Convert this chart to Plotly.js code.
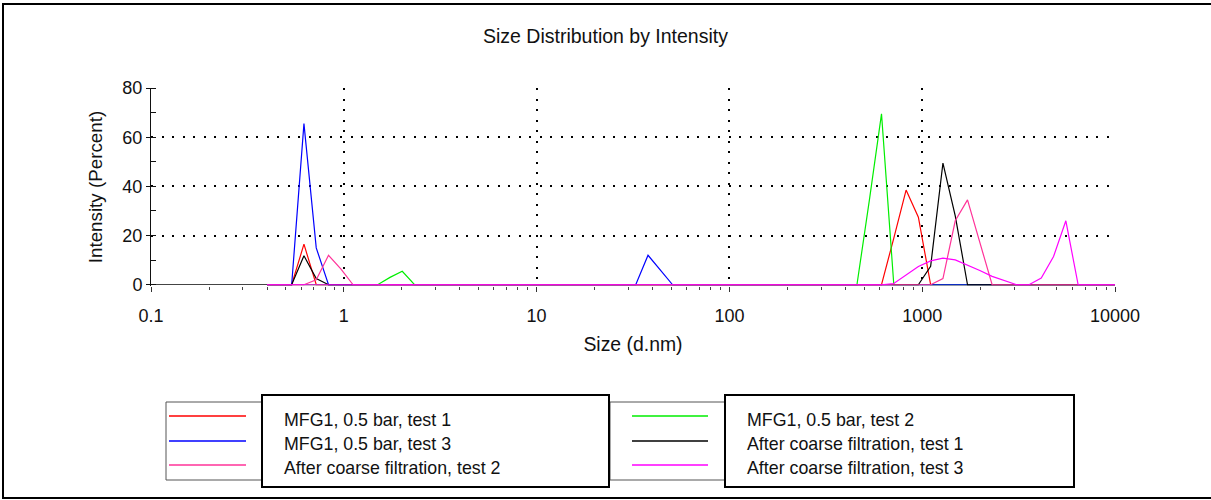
<!DOCTYPE html>
<html>
<head>
<meta charset="utf-8">
<script src="https://cdn.plot.ly/plotly-3.0.1.min.js"></script>
<style>html,body{margin:0;padding:0;background:#fff;}#chart{width:1211px;height:500px;}</style>
</head>
<body>
<div id="chart"></div>
<script>
// Size bins (d.nm)
const sizes = [0.4, 0.4632, 0.5365, 0.6213, 0.7195, 0.8332, 0.9649, 1.117, 1.294, 1.499,
  1.736, 2.01, 2.328, 2.696, 3.122, 3.615, 4.187, 4.849, 5.615, 6.503,
  7.531, 8.721, 10.1, 11.7, 13.54, 15.69, 18.17, 21.04, 24.36, 28.21,
  32.67, 37.84, 43.82, 50.75, 58.77, 68.06, 78.82, 91.28, 105.7, 122.4,
  141.8, 164.2, 190.1, 220.2, 255.0, 295.3, 342.0, 396.1, 458.7, 531.2,
  615.1, 712.4, 825.0, 955.4, 1106, 1281, 1484, 1718, 1990, 2305,
  2669, 3091, 3580, 4145, 4801, 5560, 6439, 7456, 8635, 10000];

const mfgTest1 = [0,0,0,16.5,0,0,0,0,0,0, 0,0,0,0,0,0,0,0,0,0, 0,0,0,0,0,0,0,0,0,0,
  0,0,0,0,0,0,0,0,0,0, 0,0,0,0,0,0,0,0,0,0, 0,19,38.5,27.5,0,0,0,0,0,0, 0,0,0,0,0,0,0,0,0,0];
const mfgTest2 = [0,0,0,0,0,0,0,0,0,0, 3,5.5,0,0,0,0,0,0,0,0, 0,0,0,0,0,0,0,0,0,0,
  0,0,0,0,0,0,0,0,0,0, 0,0,0,0,0,0,0,0,0,34, 69.5,0,0,0,0,0,0,0,0,0, 0,0,0,0,0,0,0,0,0,0];
const mfgTest3 = [0,0,0,65.5,15,0,0,0,0,0, 0,0,0,0,0,0,0,0,0,0, 0,0,0,0,0,0,0,0,0,0,
  0,12,6,0,0,0,0,0,0,0, 0,0,0,0,0,0,0,0,0,0, 0,0,0,0,0,0,0,0,0,0, 0,0,0,0,0,0,0,0,0,0];
const afterTest1 = [0,0,0,11.8,2.5,0,0,0,0,0, 0,0,0,0,0,0,0,0,0,0, 0,0,0,0,0,0,0,0,0,0,
  0,0,0,0,0,0,0,0,0,0, 0,0,0,0,0,0,0,0,0,0, 0,0,0,0,7.5,49.5,28,0,0,0, 0,0,0,0,0,0,0,0,0,0];
const afterTest2 = [0,0,0,0,2,12,6.5,0,0,0, 0,0,0,0,0,0,0,0,0,0, 0,0,0,0,0,0,0,0,0,0,
  0,0,0,0,0,0,0,0,0,0, 0,0,0,0,0,0,0,0,0,0, 0,0,0,0,0,2.5,26,34.5,17,0, 0,0,0,0,0,0,0,0,0,0];
const afterTest3 = [0,0,0,0,0,0,0,0,0,0, 0,0,0,0,0,0,0,0,0,0, 0,0,0,0,0,0,0,0,0,0,
  0,0,0,0,0,0,0,0,0,0, 0,0,0,0,0,0,0,0,0,0, 0,0.5,4,7.4,9.7,10.8,10.1,8.1,5.8,3.4, 1.6,0,0,2.7,11.5,26,0,0,0,0];

const seriesNames = ['MFG1, 0.5 bar, test 1', 'MFG1, 0.5 bar, test 2', 'MFG1, 0.5 bar, test 3',
  'After coarse filtration, test 1', 'After coarse filtration, test 2', 'After coarse filtration, test 3'];
const seriesValues = [mfgTest1, mfgTest2, mfgTest3, afterTest1, afterTest2, afterTest3];
const seriesColors = ['#ff0000', '#00ee00', '#0000ff', '#000000', '#ff3399', '#ff00ff'];

const xTickVals = [0.1, 1, 10, 100, 1000, 10000];
const xTickText = ['0.1', '1', '10', '100', '1000', '10000'];
const yTickVals = [0, 20, 40, 60, 80];

const FONT = 'Arial, "Liberation Sans", sans-serif';
const L = 151, R = 96, T = 88, B = 214, W = 1211, H = 500;
const PW = W - L - R, PH = H - T - B;
const X = px => (px - L) / PW;
const Y = py => (H - B - py) / PH;

const traces = seriesNames.map((n, i) => ({
  type: 'scatter', mode: 'lines', name: n, x: sizes, y: seriesValues[i],
  line: {color: seriesColors[i], width: 1.2}, showlegend: false, hoverinfo: 'x+y+name'
}));

const shapes = [];
const annotations = [];
// outer frame
shapes.push({type: 'rect', xref: 'paper', yref: 'paper', x0: X(3), x1: X(1225), y0: Y(4), y1: Y(498),
  line: {color: '#000', width: 2}, fillcolor: 'rgba(0,0,0,0)', layer: 'below'});
// legend groups
const groups = [
  {outer: [166, 609], inner: [262, 609], line: [169, 246], text: 282},
  {outer: [610, 1074], inner: [725, 1074], line: [632, 708], text: 745}
];
const rowLineY = [416, 441, 465];
const rowTextY = [420, 444, 468];
groups.forEach(g => {
  shapes.push({type: 'rect', xref: 'paper', yref: 'paper', x0: X(g.outer[0]), x1: X(g.outer[1]), y0: Y(402), y1: Y(480),
    line: {color: '#555', width: 1}, fillcolor: '#fff'});
});
groups.forEach(g => {
  shapes.push({type: 'rect', xref: 'paper', yref: 'paper', x0: X(g.inner[0]), x1: X(g.inner[1]), y0: Y(395), y1: Y(487),
    line: {color: '#000', width: 2}, fillcolor: '#fff'});
});
seriesNames.forEach((n, i) => {
  const g = groups[i % 2], r = Math.floor(i / 2);
  shapes.push({type: 'line', xref: 'paper', yref: 'paper', x0: X(g.line[0]), x1: X(g.line[1]),
    y0: Y(rowLineY[r]), y1: Y(rowLineY[r]), line: {color: seriesColors[i], width: 1.3}});
  annotations.push({xref: 'paper', yref: 'paper', x: X(g.text), y: Y(rowTextY[r]), xanchor: 'left', yanchor: 'middle',
    text: n, showarrow: false, font: {family: FONT, size: 17.8, color: '#111'}});
});

const layout = {
  width: W, height: H,
  margin: {l: L, r: R, t: T, b: B, autoexpand: false},
  paper_bgcolor: '#fff', plot_bgcolor: '#fff',
  font: {family: FONT, color: '#111'},
  title: {text: 'Size Distribution by Intensity', x: 0.5, xref: 'container', xanchor: 'center',
    y: 1 - 36 / H, yref: 'container', yanchor: 'middle', font: {family: FONT, size: 19.5, color: '#111'}},
  xaxis: {
    type: 'log', range: [-1, 4], tickmode: 'array', tickvals: xTickVals, ticktext: xTickText,
    showline: false, zeroline: false,
    ticks: 'outside', ticklen: 5, tickcolor: '#333', tickwidth: 1,
    ticklabelstandoff: 8,
    tickfont: {family: FONT, size: 18, color: '#111'},
    showgrid: true, gridcolor: '#000', gridwidth: 2, griddash: '2px,8.5px',
    minor: {ticks: 'outside', ticklen: 3, tickcolor: '#444', dtick: 'D1', showgrid: false},
    title: {text: 'Size (d.nm)', standoff: 12, font: {family: FONT, size: 19.4, color: '#111'}}
  },
  yaxis: {
    range: [-0.5, 80], tickmode: 'array', tickvals: yTickVals,
    showline: true, linecolor: '#111', linewidth: 1,
    zeroline: true, zerolinecolor: '#444', zerolinewidth: 1.2,
    ticks: 'outside', ticklen: 4, tickcolor: '#111',
    tickfont: {family: FONT, size: 18, color: '#111'},
    showgrid: true, gridcolor: '#000', gridwidth: 2, griddash: '2px,8.5px',
    minor: {ticks: 'inside', ticklen: 5, tickcolor: '#111', dtick: 10, showgrid: false},
    title: {text: 'Intensity (Percent)', standoff: 14, font: {family: FONT, size: 18.8, color: '#111'}}
  },
  shapes: shapes,
  annotations: annotations,
  showlegend: false
};

Plotly.newPlot('chart', traces, layout, {displayModeBar: false, staticPlot: true});
</script>
</body>
</html>
